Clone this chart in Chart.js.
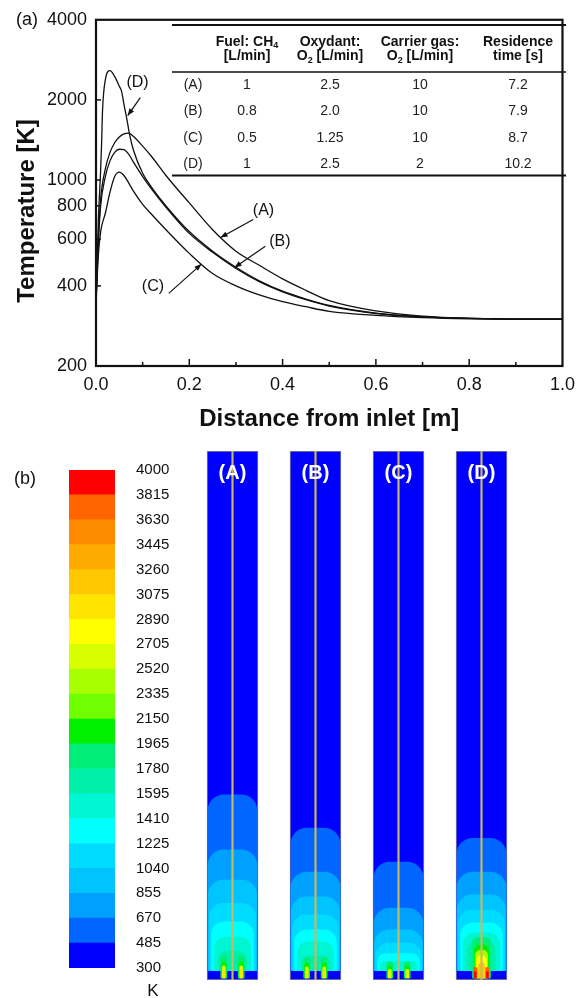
<!DOCTYPE html>
<html><head><meta charset="utf-8">
<script src="https://cdn.jsdelivr.net/npm/chart.js@4.4.0/dist/chart.umd.min.js"></script>
<style>
html,body{margin:0;padding:0;background:#fff;width:583px;height:998px;overflow:hidden;}
.box{position:absolute;}
</style></head><body>
<div class="box" style="left:0;top:0;width:583px;height:440px"><canvas id="c1"></canvas></div>
<div class="box" style="left:0;top:440px;width:190px;height:558px"><canvas id="c2"></canvas></div>
<div class="box" style="left:190px;top:440px;width:393px;height:558px"><canvas id="c3"></canvas></div>
<script>
// ---------- (a) temperature profiles ----------
const distABC = [0,0.005,0.01,0.02,0.03,0.04,0.05,0.06,0.07,0.08,0.1,0.12,0.15,0.2,0.25,0.3,0.35,0.4,0.45,0.5,0.6,0.7,0.8,0.9,1.0];
const tempA = [350,600,850,1100,1270,1380,1450,1490,1500,1460,1340,1220,1040,820,650,540,478,425,385,352,322,308,302,300,300];
const tempB = [350,580,800,1030,1180,1270,1305,1300,1250,1170,1030,920,790,630,535,465,415,380,355,336,315,306,302,300,300];
const tempC = [340,520,640,750,900,1030,1070,1040,975,910,810,740,650,530,445,400,370,349,334,321,310,304,301,300,300];
const distD = [0,0.005,0.01,0.012,0.014,0.02,0.03,0.04,0.05,0.055,0.06,0.066,0.072,0.08,0.1,0.12,0.15,0.2,0.25,0.3,0.35,0.4,0.45,0.5,0.6,0.7,0.8,0.9,1.0];
const tempD = [350,700,1100,1370,1820,2380,2576,2450,2250,2150,1920,1700,1480,1300,1060,935,800,640,540,470,418,382,357,338,316,306,302,300,300];
const xTicks = [0,0.2,0.4,0.6,0.8,1.0];
const xMinorTicks = [0.1,0.3,0.5,0.7,0.9];
const yTicks = [200,400,600,800,1000,2000,4000];
// annotation labels (data coordinates: distance, temperature)
const annLabels = ['(A)','(B)','(C)','(D)'];
const annTextPos = [[0.359,768],[0.394,585],[0.122,399],[0.089,2328]];
const annTailPos = [[0.337,710],[0.363,564],[0.156,375],[0.095,2040]];
const annHeadPos = [[0.267,608],[0.297,469],[0.226,483],[0.068,1746]];
// inset table
const tableHead1 = [[['Fuel: CH',0],['4',1]], [['Oxydant:',0]], [['Carrier gas:',0]], [['Residence',0]]];
const tableHead2 = [[['[L/min]',0]], [['O',0],['2',1],[' [L/min]',0]], [['O',0],['2',1],[' [L/min]',0]], [['time [s]',0]]];
const caseNames = ['(A)','(B)','(C)','(D)'];
const fuelCH4 = ['1','0.8','0.5','1'];
const oxidantO2 = ['2.5','2.0','1.25','2.5'];
const carrierO2 = ['10','10','10','2'];
const residenceTime = ['7.2','7.9','8.7','10.2'];

// ---------- (b) colour scale and contour fields ----------
const tempLevels = [300,485,670,855,1040,1225,1410,1595,1780,1965,2150,2335,2520,2705,2890,3075,3260,3445,3630,3815,4000];
const bandColors = ['#0000ff','#0066ff','#00a0ff','#00c4ff','#00dcff','#00ffff','#00f5d2','#00f0aa','#00ee78','#00f000',
                    '#70ff00','#a8ff00','#d8ff00','#ffff00','#ffe400','#ffc800','#ffaa00','#ff8c00','#ff6400','#ff0000'];
const panelNames = ['(A)','(B)','(C)','(D)'];
const panelPos = [1,2,3,4];
const columnTop = 1.0;
const domeLevels = [485,670,855,1040,1225,1410,1595];
const domeTopA = [0.35,0.246,0.189,0.145,0.11,0.081,0.055];
const domeTopB = [0.287,0.204,0.157,0.123,0.095,0.072,0.045];
const domeTopC = [0.223,0.136,0.095,0.07,0.05,0.035,null];
const domeTopD = [0.268,0.204,0.161,0.132,0.108,0.089,0.072];
const domeBase = 0.018;
const jetPos = [0.895,1.105,1.895,2.105,2.895,3.105];
const jetLevels = [1780,1965,2520,2890];
const jetTops = [[0.045,0.045,0.042,0.042,0.035,0.035],
                 [0.035,0.035,0.032,0.032,0.027,0.027],
                 [0.027,0.027,0.025,0.025,0.02,0.02],
                 [0.02,0.02,0.018,0.018,null,null]];
const jetBase = 0.004;
const plumeLevels = [1780,1965,2335,2705,3075];
const plumeTopD = [0.08,0.066,0.056,0.046,0.032];
const tipPos = [3.925,4.07];
const tipLevels = [3630,3815];
const tipTops = [0.024,0.016];

const F = "'Liberation Sans', Arial, Helvetica, sans-serif";
const INK = '#111';

function pts(xs, ys){ return xs.map((x,i)=>({x:x, y:ys[i]})); }
function lineSet(xs, ys){
  return {data:pts(xs,ys), borderColor:INK, borderWidth:1.3, pointRadius:0, fill:false, cubicInterpolationMode:'monotone'};
}
function arrow(ctx,x1,y1,x2,y2){
  ctx.beginPath(); ctx.moveTo(x1,y1); ctx.lineTo(x2,y2); ctx.stroke();
  const a=Math.atan2(y2-y1,x2-x1), L=7, W=2.8;
  ctx.beginPath(); ctx.moveTo(x2,y2);
  ctx.lineTo(x2-L*Math.cos(a)+W*Math.sin(a), y2-L*Math.sin(a)-W*Math.cos(a));
  ctx.lineTo(x2-L*Math.cos(a)-W*Math.sin(a), y2-L*Math.sin(a)+W*Math.cos(a));
  ctx.closePath(); ctx.fill();
}
function drawSegs(ctx, segs, cx, cy, bold){
  const big=(bold?'bold ':'')+'14px '+F, small=(bold?'bold ':'')+'9px '+F;
  let w=0; segs.forEach(s=>{ctx.font=s[1]?small:big; w+=ctx.measureText(s[0]).width;});
  let x=cx-w/2; ctx.textAlign='left'; ctx.textBaseline='middle';
  segs.forEach(s=>{ctx.font=s[1]?small:big; ctx.fillText(s[0],x,cy+(s[1]?4:0)); x+=ctx.measureText(s[0]).width;});
}

const deco1 = {
  id:'deco1',
  afterDraw(chart){
    const ctx=chart.ctx, a=chart.chartArea, xs=chart.scales.x, ys=chart.scales.y;
    ctx.save();
    ctx.strokeStyle=INK; ctx.fillStyle=INK;
    // inward ticks
    ctx.lineWidth=1.5;
    yTicks.slice(1,-1).forEach(v=>{const y=ys.getPixelForValue(v); ctx.beginPath(); ctx.moveTo(a.left,y); ctx.lineTo(a.left+5,y); ctx.stroke();});
    xTicks.slice(1,-1).forEach(v=>{const x=xs.getPixelForValue(v); ctx.beginPath(); ctx.moveTo(x,a.bottom); ctx.lineTo(x,a.bottom-7); ctx.stroke();});
    xMinorTicks.forEach(v=>{const x=xs.getPixelForValue(v); ctx.beginPath(); ctx.moveTo(x,a.bottom); ctx.lineTo(x,a.bottom-4); ctx.stroke();});
    // frame
    ctx.lineWidth=2.2; ctx.strokeRect(a.left,a.top,a.right-a.left,a.bottom-a.top);
    // axis titles
    ctx.font='bold 24px '+F; ctx.textAlign='center'; ctx.textBaseline='middle';
    ctx.fillText('Distance from inlet [m]', (a.left+a.right)/2, 419);
    ctx.save(); ctx.translate(27,211); ctx.rotate(-Math.PI/2); ctx.fillText('Temperature [K]',0,0); ctx.restore();
    ctx.font='18px '+F; ctx.fillText('(a)', 27, 20);
    // annotations
    ctx.lineWidth=1.2; ctx.font='16px '+F;
    annLabels.forEach((t,i)=>{
      ctx.fillText(t, xs.getPixelForValue(annTextPos[i][0]), ys.getPixelForValue(annTextPos[i][1]));
      arrow(ctx, xs.getPixelForValue(annTailPos[i][0]), ys.getPixelForValue(annTailPos[i][1]),
                 xs.getPixelForValue(annHeadPos[i][0]), ys.getPixelForValue(annHeadPos[i][1]));
    });
    // table
    const tx0=172, tx1=566, colX=[193,247,330,420,518], rowY=[85,111.5,138,164.5];
    ctx.lineWidth=2; ctx.beginPath(); ctx.moveTo(tx0,25); ctx.lineTo(tx1,25); ctx.stroke();
    ctx.lineWidth=1.5; ctx.beginPath(); ctx.moveTo(tx0,72); ctx.lineTo(tx1,72); ctx.stroke();
    ctx.lineWidth=2; ctx.beginPath(); ctx.moveTo(tx0,175.5); ctx.lineTo(tx1,175.5); ctx.stroke();
    tableHead1.forEach((s,i)=>drawSegs(ctx,s,colX[i+1],42,true));
    tableHead2.forEach((s,i)=>drawSegs(ctx,s,colX[i+1],56.5,true));
    ctx.font='14px '+F; ctx.textAlign='center'; ctx.textBaseline='middle'; ctx.fillStyle='#222';
    const cols=[caseNames,fuelCH4,oxidantO2,carrierO2,residenceTime];
    cols.forEach((col,c)=>col.forEach((v,r)=>ctx.fillText(v,colX[c],rowY[r])));
    ctx.restore();
  }
};

new Chart(document.getElementById('c1'), {
  type:'line',
  data:{datasets:[lineSet(distABC,tempA), lineSet(distABC,tempB), lineSet(distABC,tempC), lineSet(distD,tempD)]},
  options:{
    responsive:true, maintainAspectRatio:false, animation:false,
    layout:{padding:{left:0,top:19,right:12,bottom:0}},
    plugins:{legend:{display:false}, tooltip:{enabled:false}},
    scales:{
      x:{type:'linear', min:0, max:1, grid:{display:false, drawTicks:false}, border:{display:false},
         afterBuildTicks:s=>{s.ticks=xTicks.map(v=>({value:v}));},
         ticks:{font:{size:18,family:F}, color:INK, padding:8, maxRotation:0, autoSkip:false, callback:v=>Number(v).toFixed(1)},
         afterFit:s=>{s.height=74;}},
      y:{type:'logarithmic', min:200, max:4000, grid:{display:false, drawTicks:false}, border:{display:false},
         afterBuildTicks:s=>{s.ticks=yTicks.map(v=>({value:v}));},
         ticks:{font:{size:18,family:F}, color:INK, padding:9, autoSkip:false, callback:v=>String(v)},
         afterFit:s=>{s.width=96;}}
    }
  },
  plugins:[deco1]
});

// ---------- colour bar ----------
const deco2 = {
  id:'deco2',
  afterDraw(chart){
    const ctx=chart.ctx, a=chart.chartArea;
    ctx.save(); ctx.fillStyle=INK; ctx.textAlign='center'; ctx.textBaseline='middle';
    ctx.font='18px '+F; ctx.fillText('(b)', 25, 39);
    ctx.font='17px '+F; ctx.fillText('K', 153, a.bottom+23);
    ctx.restore();
  }
};
new Chart(document.getElementById('c2'), {
  type:'bar',
  data:{labels:[''], datasets: bandColors.map((c,i)=>({data:[[tempLevels[i],tempLevels[i+1]]], backgroundColor:c, borderWidth:0, grouped:false, barPercentage:1, categoryPercentage:1}))},
  options:{
    responsive:true, maintainAspectRatio:false, animation:false,
    layout:{padding:{left:69, top:28, right:0, bottom:30}},
    plugins:{legend:{display:false}, tooltip:{enabled:false}},
    scales:{
      x:{display:false},
      y:{position:'right', min:300, max:4000, grid:{display:false, drawTicks:false}, border:{display:false},
         afterBuildTicks:s=>{s.ticks=tempLevels.map(v=>({value:v}));},
         ticks:{font:{size:15,family:F}, color:INK, padding:21, autoSkip:false, callback:v=>String(v)},
         afterFit:s=>{s.width=75;}}
    }
  },
  plugins:[deco2]
});

// ---------- contour panels ----------
function colorOf(level){ return bandColors[tempLevels.indexOf(level)]; }
const contourSets = [];
function addBars(points, color, thick, radius, extra){
  contourSets.push(Object.assign({data:points.filter(p=>p.y!==null), backgroundColor:color, barThickness:thick,
    borderRadius:{topLeft:radius,topRight:radius,bottomLeft:0,bottomRight:0}, borderWidth:0, grouped:false}, extra||{}));
}
const domeWidth = [49,49,48,46,42,36,28];
const domeRadius = [16,16,15,14,13,11,9];
addBars(panelPos.map(p=>({x:p, y:[0,columnTop]})), colorOf(300), 51, 0, {borderWidth:1, borderColor:'#8c8c8c', borderSkipped:false});
domeLevels.forEach((lv,k)=>{
  const tops=[domeTopA[k],domeTopB[k],domeTopC[k],domeTopD[k]];
  addBars(panelPos.map((p,j)=>({x:p, y: tops[j]===null?null:[domeBase,tops[j]]})), colorOf(lv), domeWidth[k], domeRadius[k]);
});
const jetWidth = [6,4.5,3,2];
jetLevels.forEach((lv,k)=>{
  addBars(jetPos.map((p,j)=>({x:p, y: jetTops[k][j]===null?null:[jetBase,jetTops[k][j]]})), colorOf(lv), jetWidth[k], 2.5);
});
const plumeWidth = [18,14,12,10,6];
plumeLevels.forEach((lv,k)=>{
  addBars([{x:panelPos[3], y:[jetBase, plumeTopD[k]]}], colorOf(lv), plumeWidth[k], 5);
});
const tipWidth = [3.5,2];
tipLevels.forEach((lv,k)=>{
  addBars(tipPos.map(p=>({x:p, y:[jetBase, tipTops[k]]})), colorOf(lv), tipWidth[k], 1.5);
});
addBars(panelPos.map(p=>({x:p, y:[0,columnTop]})), '#c8b860', 1.5, 0);
contourSets.forEach((d,i)=>{ d.order = contourSets.length - i; });

const deco3 = {
  id:'deco3',
  afterDatasetsDraw(chart){
    const ctx=chart.ctx, xs=chart.scales.x, ys=chart.scales.y;
    ctx.save(); ctx.fillStyle='#ffffff'; ctx.font='bold 20px '+F; ctx.textAlign='center'; ctx.textBaseline='middle';
    panelNames.forEach((t,i)=>ctx.fillText(t, xs.getPixelForValue(panelPos[i]), ys.getPixelForValue(0.958)));
    ctx.restore();
  }
};
new Chart(document.getElementById('c3'), {
  type:'bar',
  data:{datasets:contourSets},
  options:{
    responsive:true, maintainAspectRatio:false, animation:false,
    layout:{padding:{left:1, top:11, right:60, bottom:18}},
    plugins:{legend:{display:false}, tooltip:{enabled:false}},
    scales:{
      x:{type:'linear', min:0.5, max:4.5, offset:false, display:false},
      y:{min:0, max:1, display:false}
    }
  },
  plugins:[deco3]
});
</script>
</body></html>
